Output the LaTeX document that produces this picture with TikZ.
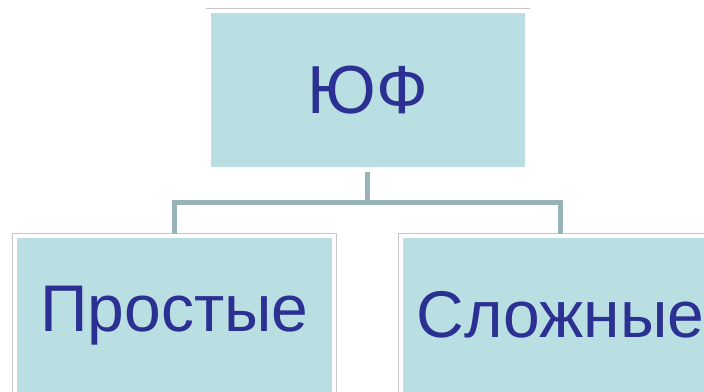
\documentclass[tikz,border=0pt]{standalone}
\usepackage{fontspec}
\setmainfont{Liberation Sans}
\definecolor{boxblue}{HTML}{B9DFE2}
\definecolor{textblue}{HTML}{2B3092}
\definecolor{linegrey}{HTML}{99B4B8}
\begin{document}
\begin{tikzpicture}[x=1pt,y=1pt]
\tikzstyle{bluebox} = [rectangle, minimum width=319pt, minimum height=158.7pt, inner sep=0pt, text centered, fill=boxblue, draw=white, line width=4.5pt, preaction={draw=black!22, line width=5.5pt}, text=textblue]
\tikzstyle{branch} = [draw=linegrey, line width=5pt]
\useasboundingbox[fill=white] (0,0) rectangle (704,-391);
\node (UF) [bluebox] at (367.8,-90.2) {\fontsize{68}{70}\selectfont ЮФ};
\node (prost) [bluebox] at (174.4,-315.2) {\fontsize{66}{68}\selectfont Простые};
\node (slozh) [bluebox] at (560.7,-315.2) {\fontsize{66}{68}\selectfont Сложные};
\coordinate (fork) at (367.8,-202);
\draw [branch] (UF.south) -- (fork);
\draw [branch] (fork) -| (prost.north);
\draw [branch] (fork) -| (slozh.north);
\end{tikzpicture}
\end{document}
